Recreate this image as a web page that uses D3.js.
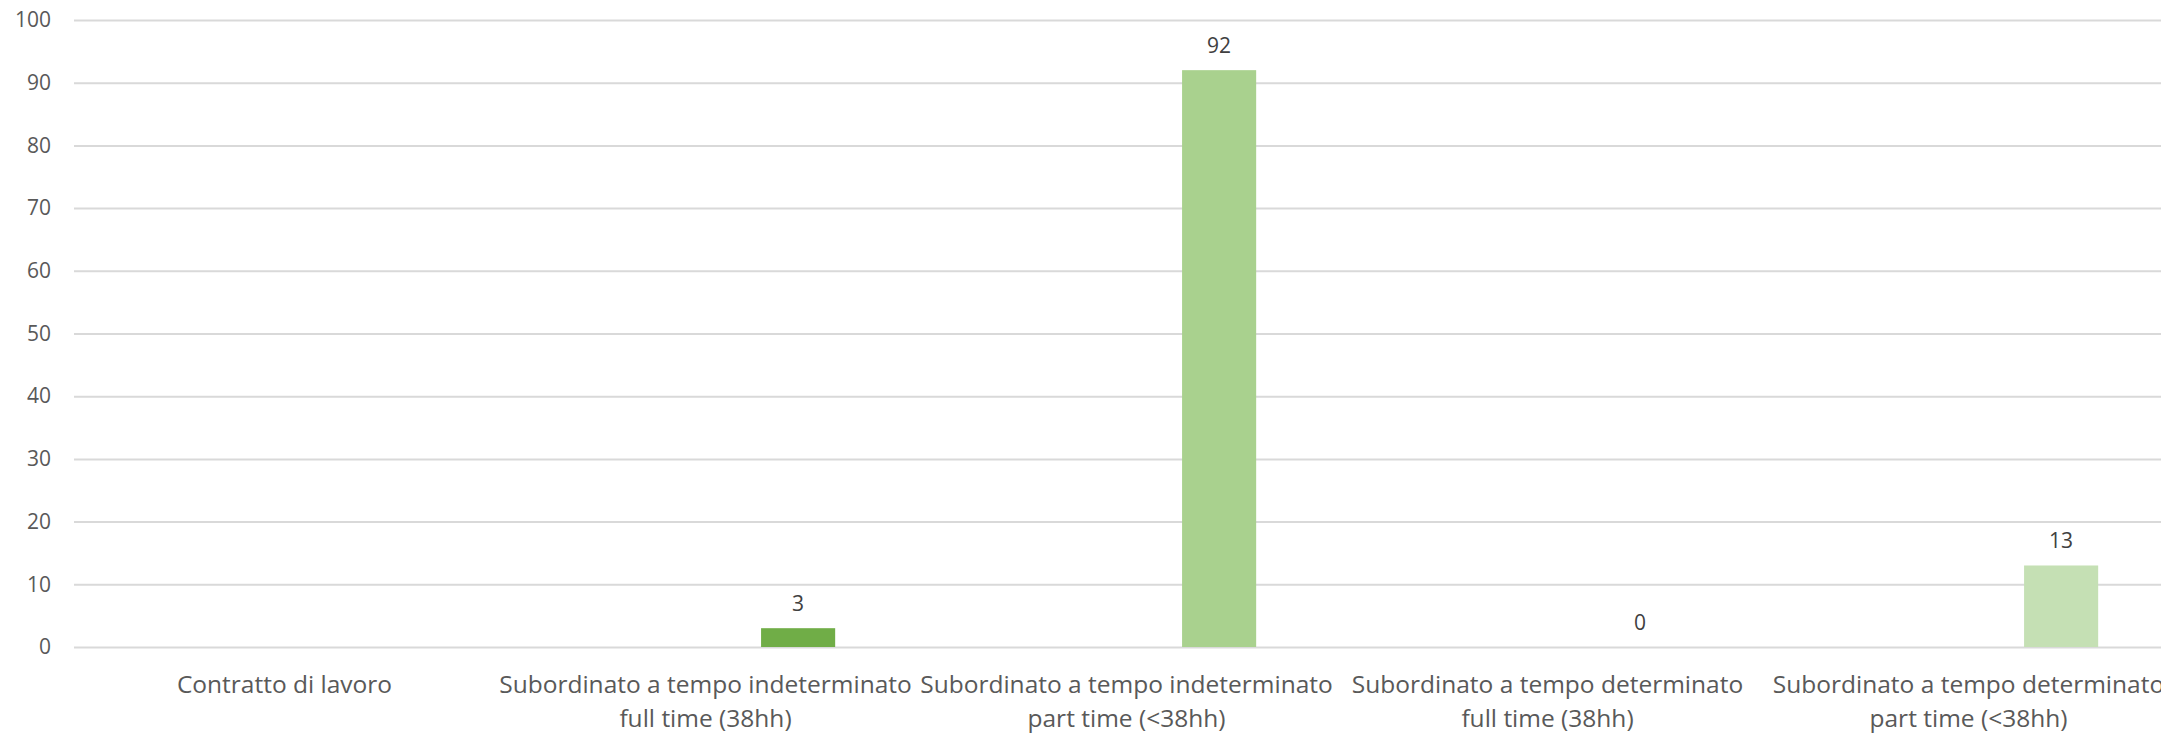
<!DOCTYPE html>
<html>
<head>
<meta charset="utf-8">
<script src="https://cdn.jsdelivr.net/npm/d3@7"></script>
<style>
    body { margin: 0; background: #fff; overflow: hidden; }
    svg { display: block; font-family: "Open Sans", sans-serif; }
</style>
</head>
<body>
<div id="chart"></div>
<script>
// categories (each label wraps onto up to two lines)
var categories = [
    "Contratto di lavoro",
    "Subordinato a tempo indeterminato\nfull time (38hh)",
    "Subordinato a tempo indeterminato\npart time (<38hh)",
    "Subordinato a tempo determinato\nfull time (38hh)",
    "Subordinato a tempo determinato\npart time (<38hh)"
];
var values = [null, 3, 92, 0, 13];
var yTicks = [0, 10, 20, 30, 40, 50, 60, 70, 80, 90, 100];

// styling
var barColors = ["#70ad47", "#70ad47", "#a9d18e", "#c5e0b4", "#c5e0b4"];
var width = 2161, height = 733;
var plotLeft = 74, step = 421, plotTop = 20, plotBottom = 647;

var svg = d3.select("#chart").append("svg")
    .attr("width", width)
    .attr("height", height);

var x = d3.scaleBand()
    .domain(categories)
    .range([plotLeft, plotLeft + step * categories.length])
    .padding(0);

var y = d3.scaleLinear()
    .domain([0, 100])
    .range([plotBottom, plotTop]);

// gridlines + y tick labels
var yAxis = d3.axisLeft(y)
    .tickValues(yTicks)
    .tickSize(-(width - plotLeft + 40))
    .tickPadding(23)
    .tickFormat(d3.format("d"));

var gy = svg.append("g")
    .attr("transform", "translate(" + plotLeft + ",0)")
    .call(yAxis);
gy.select(".domain").remove();
gy.selectAll(".tick line")
    .attr("stroke", "#d9d9d9")
    .attr("stroke-width", 2);
gy.selectAll(".tick text")
    .attr("fill", "#595959")
    .style("font-size", "21px")
    .style("font-family", "'Open Sans', sans-serif");

// bars sit in the right part of each category band
var barStart = 0.632, barFrac = 0.176;
var rows = categories.map(function(c, i) {
    return { cat: c, value: values[i], color: barColors[i] };
}).filter(function(d) { return d.value !== null; });

svg.selectAll("rect.bar")
    .data(rows)
    .enter().append("rect")
    .attr("class", "bar")
    .attr("x", function(d) { return x(d.cat) + x.bandwidth() * barStart; })
    .attr("width", x.bandwidth() * barFrac)
    .attr("y", function(d) { return y(d.value); })
    .attr("height", function(d) { return y(0) - y(d.value); })
    .attr("fill", function(d) { return d.color; });

// value labels
svg.selectAll("text.val")
    .data(rows)
    .enter().append("text")
    .attr("class", "val")
    .attr("x", function(d) { return x(d.cat) + x.bandwidth() * (barStart + barFrac / 2); })
    .attr("y", function(d) { return y(d.value) - 25; })
    .attr("text-anchor", "middle")
    .attr("dominant-baseline", "central")
    .attr("fill", "#404040")
    .style("font-size", "21px")
    .text(function(d) { return d.value; });

// category labels
var catLabels = svg.selectAll("text.cat")
    .data(categories)
    .enter().append("text")
    .attr("class", "cat")
    .attr("text-anchor", "middle")
    .attr("fill", "#595959")
    .style("font-size", "24.5px");

catLabels.selectAll("tspan")
    .data(function(d) {
        return d.split("\n").map(function(t, i) { return { text: t, line: i, cat: d }; });
    })
    .enter().append("tspan")
    .attr("x", function(d) { return x(d.cat) + x.bandwidth() / 2; })
    .attr("y", function(d) { return plotBottom + 36 + d.line * 34; })
    .attr("dominant-baseline", "central")
    .text(function(d) { return d.text; });
</script>
</body>
</html>
